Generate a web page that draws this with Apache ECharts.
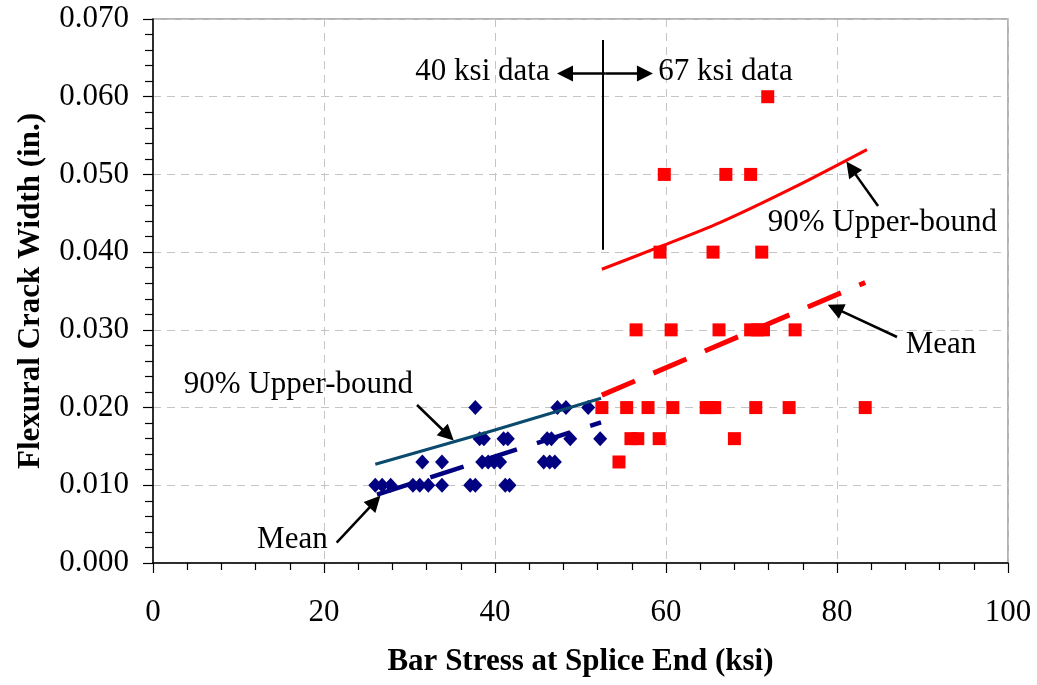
<!DOCTYPE html>
<html><head><meta charset="utf-8">
<script src="https://cdn.jsdelivr.net/npm/echarts@6/dist/echarts.min.js"></script>
<style>html,body{margin:0;padding:0;background:#fff}#c{width:1037px;height:685px}</style>
</head><body><div id="c"></div>
<script>
// ---- data ----
const xTitle = 'Bar Stress at Splice End (ksi)';
const yTitle = 'Flexural Crack Width (in.)';
// 40 ksi data: [bar stress (ksi), crack width (in.)]
const ksi40 = [
  [26.0,0.010],[26.8,0.010],[27.8,0.010],[30.4,0.010],[31.2,0.010],[32.2,0.010],[33.8,0.010],[37.1,0.010],[37.7,0.010],[41.2,0.010],[41.7,0.010],
  [31.5,0.013],[33.8,0.013],[38.5,0.013],[39.2,0.013],[39.9,0.013],[40.6,0.013],[45.7,0.013],[46.4,0.013],[47.0,0.013],
  [38.2,0.016],[38.7,0.016],[41.0,0.016],[41.5,0.016],[46.1,0.016],[46.6,0.016],[48.8,0.016],[52.3,0.016],
  [37.7,0.020],[47.3,0.020],[48.3,0.020],[50.9,0.020]
];
// 67 ksi data
const ksi67 = [
  [71.9,0.060],
  [59.8,0.050],[67.0,0.050],[69.9,0.050],
  [59.3,0.040],[65.5,0.040],[71.2,0.040],
  [56.5,0.030],[60.6,0.030],[66.2,0.030],[69.9,0.030],[70.7,0.030],[71.4,0.030],[75.1,0.030],
  [52.5,0.020],[55.4,0.020],[57.9,0.020],[60.8,0.020],[64.7,0.020],[65.2,0.020],[65.7,0.020],[70.5,0.020],[74.4,0.020],[83.3,0.020],
  [55.9,0.016],[56.7,0.016],[59.2,0.016],[68.0,0.016],
  [54.5,0.013]
];
const upper40 = [[26.0,0.0127],[39.0,0.0168],[52.4,0.0212]];
const mean40  = [[26.2,0.0088],[52.4,0.0181]];
const upper67 = [[52.5,0.0378],[59.3,0.0407],[66.3,0.0438],[74.9,0.0483],[83.5,0.0532]];
const mean67  = [[52.5,0.0216],[83.3,0.0361]];
// annotations (data coordinates)
const divider = [[52.63,0.0673],[52.63,0.0403]];
const arrows = [
  {from:[30.88,0.02033], to:[34.5,0.01647]},
  {from:[21.48,0.00261], to:[25.96,0.00789]},
  {from:[84.8,0.04594],  to:[81.64,0.05081]},
  {from:[87.02,0.02908], to:[79.77,0.03281]}
];
const dblArrow = [[52.9,0.0630],[48.19,0.0630],[57.54,0.0630]];
const notes = [
  [38.54,0.0632,'40 ksi data'],
  [66.96,0.0632,'67 ksi data'],
  [85.3,0.04375,'90% Upper-bound'],
  [92.16,0.02805,'Mean'],
  [17.0,0.0229,'90% Upper-bound'],
  [16.3,0.00296,'Mean']
];
const xMin = 0, xMax = 100, xStep = 20;
const yMin = 0, yMax = 0.07, yStep = 0.01;

// ---- chart ----
const FONT = '"Liberation Serif","Times New Roman",serif';
const chart = echarts.init(document.getElementById('c'), null, {renderer:'canvas'});
const grid = {left:153, right:29, top:19, bottom:122, show:true, borderColor:'#9a9a9a', borderWidth:1.5};
const splitStyle = {color:'#c4c4c4', width:1, type:[8,6]};
chart.setOption({
  animation:false,
  backgroundColor:'#fff',
  grid: grid,
  xAxis: {
    type:'value', min:xMin, max:xMax, interval:xStep,
    name:xTitle, nameLocation:'middle', nameGap:83,
    nameTextStyle:{fontFamily:FONT, fontSize:31, fontWeight:'bold', color:'#000'},
    axisLine:{onZero:false, lineStyle:{color:'#000', width:1.5}},
    axisTick:{length:10, lineStyle:{color:'#000', width:1.2}},
    minorTick:{show:true, splitNumber:5, length:7, lineStyle:{color:'#000', width:1.2}},
    splitLine:{show:true, lineStyle:splitStyle},
    axisLabel:{fontFamily:FONT, fontSize:31, color:'#000', margin:34}
  },
  yAxis: {
    type:'value', min:yMin, max:yMax, interval:yStep,
    name:yTitle, nameLocation:'middle', nameGap:107,
    nameTextStyle:{fontFamily:FONT, fontSize:31, fontWeight:'bold', color:'#000'},
    axisLine:{onZero:false, lineStyle:{color:'#000', width:1.5}},
    axisTick:{length:10, lineStyle:{color:'#000', width:1.2}},
    minorTick:{show:true, splitNumber:5, length:8, lineStyle:{color:'#000', width:1.2}},
    splitLine:{show:true, lineStyle:splitStyle},
    axisLabel:{fontFamily:FONT, fontSize:31, color:'#000', margin:24, formatter:v=>v.toFixed(3)}
  },
  series: [
    {type:'scatter', name:'40 ksi', data:ksi40, symbol:'diamond', symbolSize:[14,15], itemStyle:{color:'#000080', opacity:1}, z:3},
    {type:'scatter', name:'67 ksi', data:ksi67, symbol:'rect', symbolSize:13, itemStyle:{color:'#ff0000', opacity:1}, z:3},
    {type:'line', data:upper40, showSymbol:false, symbol:'none', lineStyle:{color:'#0a4a6e', width:3}, z:4},
    {type:'line', data:mean40, showSymbol:false, symbol:'none', lineStyle:{color:'#000080', width:4.5, type:[35,21]}, z:4},
    {type:'line', data:upper67, showSymbol:false, symbol:'none', smooth:0.3, lineStyle:{color:'#ff0000', width:3}, z:4},
    {type:'line', data:mean67, showSymbol:false, symbol:'none', lineStyle:{color:'#ff0000', width:5, type:[36,20]}, z:4},
    {type:'line', data:divider, showSymbol:false, symbol:'none', lineStyle:{color:'#000', width:2}, z:5},
    {type:'lines', coordinateSystem:'cartesian2d', z:6,
      symbol:['none','triangle'], symbolSize:16,
      lineStyle:{color:'#000', width:2.5, opacity:1},
      data: arrows.map(a=>({coords:[a.from, a.to]}))},
    {type:'lines', coordinateSystem:'cartesian2d', z:6,
      symbol:['none','triangle'], symbolSize:16,
      lineStyle:{color:'#000', width:2.5, opacity:1},
      data: [{coords:[dblArrow[0], dblArrow[1]]},{coords:[dblArrow[0], dblArrow[2]]}]},
    {type:'scatter', data:notes, symbolSize:0, z:7, silent:true, itemStyle:{opacity:1},
      label:{show:true, position:'inside', formatter:p=>p.value[2], fontFamily:FONT, fontSize:31, color:'#000', opacity:1}}
  ]
});
</script>
</body></html>
